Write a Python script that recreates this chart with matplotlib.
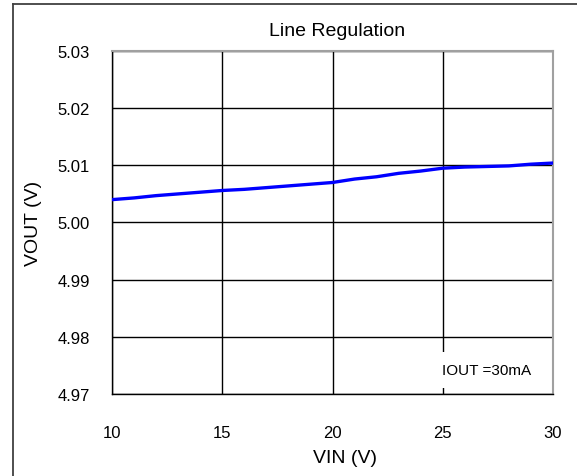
import numpy as np
import matplotlib
matplotlib.use("Agg")
import matplotlib.pyplot as plt
from matplotlib.lines import Line2D

plt.rcParams['font.family'] = ['Liberation Sans Narrow', 'Liberation Sans', 'DejaVu Sans']

# data
vin = [10, 11, 12, 13, 14, 15, 16, 17, 18, 19, 20,
       21, 22, 23, 24, 25, 26, 27, 28, 29, 30]
vout = [5.0040, 5.0043, 5.0047, 5.0050, 5.0053, 5.0056, 5.0058, 5.0061, 5.0064, 5.0067, 5.0070,
        5.0076, 5.0080, 5.0086, 5.0090, 5.0095, 5.0097, 5.0098, 5.0099, 5.0102, 5.0104]
xticks = [10, 15, 20, 25, 30]
yticks = [4.97, 4.98, 4.99, 5.00, 5.01, 5.02, 5.03]
ytick_labels = ['4.97', '4.98', '4.99', '5.00', '5.01', '5.02', '5.03']

W, H = 577, 477
fig = plt.figure(figsize=(W / 100, H / 100), dpi=100)
fig.patch.set_facecolor('white')

# outer frame (top and left edges visible)
fig.add_artist(Line2D([13 / W, 1], [1 - 5 / H, 1 - 5 / H], color='#404040', lw=1.3))
fig.add_artist(Line2D([13 / W, 13 / W], [0, 1 - 5 / H], color='#404040', lw=1.3))

ax = fig.add_axes([112 / W, 1 - 395 / H, 441 / W, 343 / H])
ax.plot(vin, vout, color='#0000ff', lw=2.4, zorder=3)

ax.set_xlim(10, 30)
ax.set_ylim(4.97, 5.03)
ax.set_xticks(xticks)
ax.set_yticks(yticks)
ax.set_yticklabels(ytick_labels)
ax.grid(True, color='black', lw=1.0)
ax.tick_params(length=0, labelsize=12)
ax.tick_params(axis='x', pad=22)
ax.tick_params(axis='y', pad=16)

for s in ['left', 'bottom']:
    ax.spines[s].set_color('black')
    ax.spines[s].set_linewidth(1.0)
for s in ['top', 'right']:
    ax.spines[s].set_color('#a0a0a0')
    ax.spines[s].set_linewidth(1.5)

ax.text(0.51, 1.06, 'Line Regulation', transform=ax.transAxes,
        ha='center', va='center', fontsize=14)
ax.set_xlabel('VIN (V)', fontsize=14, va='center')
ax.xaxis.set_label_coords(0.528, -0.184)
ax.set_ylabel('VOUT (V)', fontsize=14, va='center')
ax.yaxis.set_label_coords(-0.177, 0.5)

ax.text(24.97, 4.9742, 'IOUT =30mA', ha='left', va='center', fontsize=11, zorder=4,
        bbox=dict(boxstyle='square,pad=0.7', facecolor='white', edgecolor='none'))

fig.savefig('out.png', dpi=100)
